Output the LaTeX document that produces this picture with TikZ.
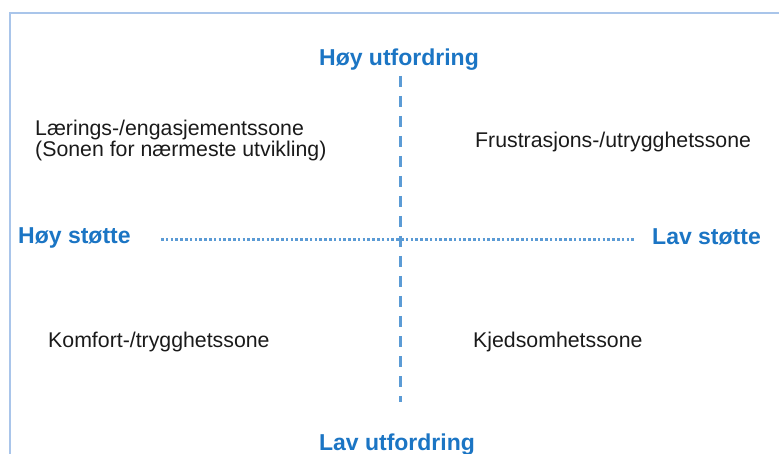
\documentclass[tikz,border=0pt]{standalone}
\usepackage{fontspec}
\setmainfont{Liberation Sans}
\definecolor{frameblue}{HTML}{A9C5EA}
\definecolor{axisblue}{HTML}{5B9BD5}
\definecolor{labelblue}{HTML}{1B75C4}
\definecolor{zonetext}{HTML}{1A1A1A}
\begin{document}
\begin{tikzpicture}[x=1pt,y=-1pt,
  axislabel/.style={inner sep=0pt, font=\fontsize{23}{26}\selectfont\bfseries, text=labelblue},
  zone/.style={inner sep=0pt, font=\fontsize{21.3}{21.5}\selectfont, text=zonetext, align=left},
  vaxis/.style={draw=axisblue, line width=3pt, dash pattern=on 11pt off 9pt},
  haxis/.style={draw=axisblue, line width=3pt, dash pattern=on 2.6pt off 2.2pt},
  framebar/.style={draw=frameblue, line width=2pt}]
\useasboundingbox (0,0) rectangle (779,454);
\clip (0,0) rectangle (779,454);
% frame
\coordinate (fTR) at (779,13.5);
\coordinate (fTL) at (9.5,13.5);
\coordinate (fBL) at (9.5,454);
\draw[framebar] (fTR) -- (fTL) -- (fBL);
% axes
\coordinate (vTop) at (400,76);
\coordinate (vBot) at (400,402);
\coordinate (hL) at (161,240);
\coordinate (hR) at (635,240);
\draw[vaxis] (vTop) -- (vBot);
\draw[haxis] (hL) -- (hR);
% axis labels
\node[axislabel, anchor=base] (hu) at (399,66) {Høy utfordring};
\node[axislabel, anchor=base] (lu) at (397,450) {Lav utfordring};
\node[axislabel, anchor=base west] (hs) at (18,244) {Høy støtte};
\node[axislabel, anchor=base west] (ls) at (652,245) {Lav støtte};
% zones
\node[zone, anchor=base west] (laer) at (35,157) {Lærings-/engasjementssone\\(Sonen for nærmeste utvikling)};
\node[zone, anchor=base west] (frus) at (475,148) {Frustrasjons-/utrygghetssone};
\node[zone, anchor=base west] (komf) at (48,348) {Komfort-/trygghetssone};
\node[zone, anchor=base west] (kjed) at (473,348) {Kjedsomhetssone};
\end{tikzpicture}
\end{document}
